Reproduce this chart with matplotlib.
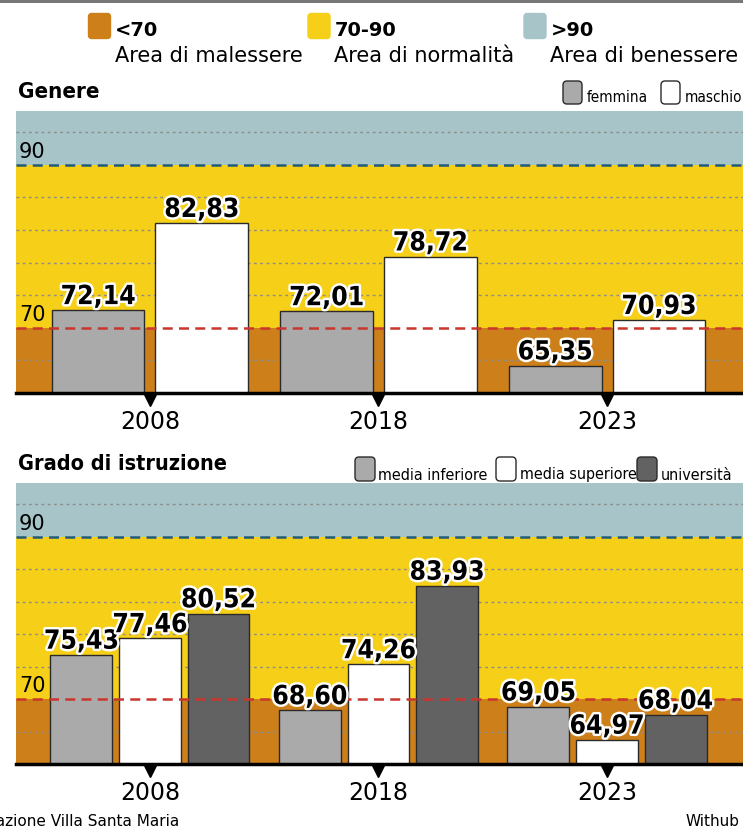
import matplotlib
matplotlib.use("Agg")
import os
import matplotlib.pyplot as plt
import matplotlib.patheffects as pe
from matplotlib import font_manager as fm
from matplotlib.patches import FancyBboxPatch, Rectangle
from matplotlib.transforms import Affine2D, offset_copy

W, H = 743, 833

# data
anni = ["2008", "2018", "2023"]
genere_labels = ["femmina", "maschio"]
femmina = [72.14, 72.01, 65.35]
maschio = [82.83, 78.72, 70.93]
istruzione_labels = ["media inferiore", "media superiore", "università"]
media_inferiore = [75.43, 68.60, 69.05]
media_superiore = [77.46, 74.26, 64.97]
universita = [80.52, 83.93, 68.04]

fasce = ["<70", "70-90", ">90"]
fasce_desc = ["Area di malessere", "Area di normalità", "Area di benessere"]
soglie = [70, 90]
griglia = [66, 74, 78, 82, 86, 94]

ORANGE = "#CD801A"
YELLOW = "#F6D018"
BLUE = "#A7C5C9"
GRAY = "#AAAAAA"
DARK = "#626262"
EDGE = "#2a2a2a"

NORMAL = ["DejaVu Sans"]

# condensed face if there is one, else plain DejaVu Sans a bit smaller
NARROW, STRETCH, SCALE = ["DejaVu Sans"], "normal", 0.85
path = fm.findfont(fm.FontProperties(family="DejaVu Sans", stretch="condensed",
                                     weight="bold"), fallback_to_default=False)
if "ondensed" in os.path.basename(path):
    NARROW, STRETCH, SCALE = ["DejaVu Sans"], "condensed", 1.0

fig = plt.figure(figsize=(W / 100, H / 100), dpi=100)
# pixel coordinates, y measured from the top
pix = Affine2D().scale(1, -1).translate(0, H)


def ax_rect(left, top, right, bottom):
    return [left / W, 1 - bottom / H, (right - left) / W, (bottom - top) / H]


def narrow(size, bold=False):
    return dict(family=NARROW, fontstretch=STRETCH, fontsize=size * SCALE,
                fontweight="bold" if bold else "normal")


def square(x, y, w, h, color, r=3):
    p = FancyBboxPatch((x, y), w, h, boxstyle=f"round,pad=0,rounding_size={r}",
                       fc=color, ec=EDGE if r > 3 else color, lw=1, transform=pix)
    fig.add_artist(p)


def panel(ax, series, colors, width, offsets):
    ymin, ymax = 62, 96.6
    ax.set_xlim(-0.586, 2.595)
    ax.set_ylim(ymin, ymax)
    ax.axhspan(ymin, soglie[0], color=ORANGE, zorder=0, lw=0)
    ax.axhspan(soglie[0], soglie[1], color=YELLOW, zorder=0, lw=0)
    ax.axhspan(soglie[1], ymax, color=BLUE, zorder=0, lw=0)
    for g in griglia:
        ax.axhline(g, color="#8c8c8c", lw=1, ls=(0, (2, 2.5)), zorder=1)
    ax.axhline(soglie[1], color="#215c7a", lw=1.8, ls=(0, (4, 2.5)), zorder=4)
    ax.axhline(soglie[0], color="#c9362e", lw=1.8, ls=(0, (4, 2.5)), zorder=4)
    for s in ax.spines.values():
        s.set_visible(False)
    ax.set_yticks([])
    x = range(len(anni))
    for vals, c, off in zip(series, colors, offsets):
        xs = [i + off for i in x]
        ax.bar(xs, [v - ymin for v in vals], width, bottom=ymin, color=c,
               edgecolor=EDGE, lw=1, zorder=3)
        for xi, v in zip(xs, vals):
            ax.annotate(f"{v:.2f}".replace(".", ","), (xi, v), xytext=(0, 4.5),
                        textcoords="offset points", ha="center", va="baseline",
                        zorder=6, **narrow(19, True),
                        path_effects=[pe.withStroke(linewidth=3.5, foreground="white")])
    ax.axhline(ymin, color="black", lw=2.5, zorder=5, clip_on=False)
    ax.plot(list(x), [ymin] * len(anni), ls="none", marker="v", ms=9, color="black",
            clip_on=False, zorder=5,
            transform=offset_copy(ax.transData, fig=fig, y=-7, units="dots"))
    ax.set_xticks(list(x), anni, fontsize=17, family=NORMAL)
    ax.tick_params(axis="x", length=0, pad=12)
    for v in soglie:
        ax.annotate(str(v), (-0.586, v), xytext=(2, 5), textcoords="offset points",
                    ha="left", va="baseline", fontsize=15, family=NORMAL, zorder=6)


# top rule
fig.add_artist(Rectangle((0, 0), W, 2.5, color="#777777", transform=pix, lw=0))

# header legend
for xx, col, lab, desc in zip([88.5, 308, 524], [ORANGE, YELLOW, BLUE], fasce, fasce_desc):
    square(xx, 13.5, 22, 25, col)
    fig.text(xx + 26.5, 36, lab, transform=pix, fontsize=14, fontweight="bold",
             family=NORMAL, va="baseline")
    fig.text(xx + 26.5, 62, desc, transform=pix, fontsize=15, family=NORMAL,
             va="baseline")

# panel 1
fig.text(18, 98, "Genere", transform=pix, va="baseline", **narrow(16, True))
for xx, col, lab in zip([563, 661], [GRAY, "white"], genere_labels):
    square(xx, 81, 19, 23, col, r=4)
    fig.text(xx + 24, 102.5, lab, transform=pix, va="baseline", **narrow(11))
ax1 = fig.add_axes(ax_rect(16, 111, 743, 393))
panel(ax1, [femmina, maschio], [GRAY, "white"], 0.406, [-0.227, 0.227])

# panel 2
fig.text(18, 470.5, "Grado di istruzione", transform=pix, va="baseline",
         **narrow(15.5, True))
for xx, col, lab in zip([355, 496, 637], [GRAY, "white", DARK], istruzione_labels):
    square(xx, 457, 20, 24, col, r=4)
    fig.text(xx + 23.5, 479.5, lab, transform=pix, va="baseline", **narrow(11.5))
ax2 = fig.add_axes(ax_rect(16, 483, 743, 764))
panel(ax2, [media_inferiore, media_superiore, universita], [GRAY, "white", DARK],
      0.271, [-0.3, 0.0, 0.3])

# footer (the left part of the source line is cut by the page edge)
fig.text(179, 826.5, "Fonte: Fondazione Villa Santa Maria", transform=pix,
         fontsize=11, family=NORMAL, ha="right", va="baseline")
fig.text(739, 826.5, "Withub", transform=pix, fontsize=11, family=NORMAL,
         ha="right", va="baseline")

fig.savefig("out.png", dpi=100)
